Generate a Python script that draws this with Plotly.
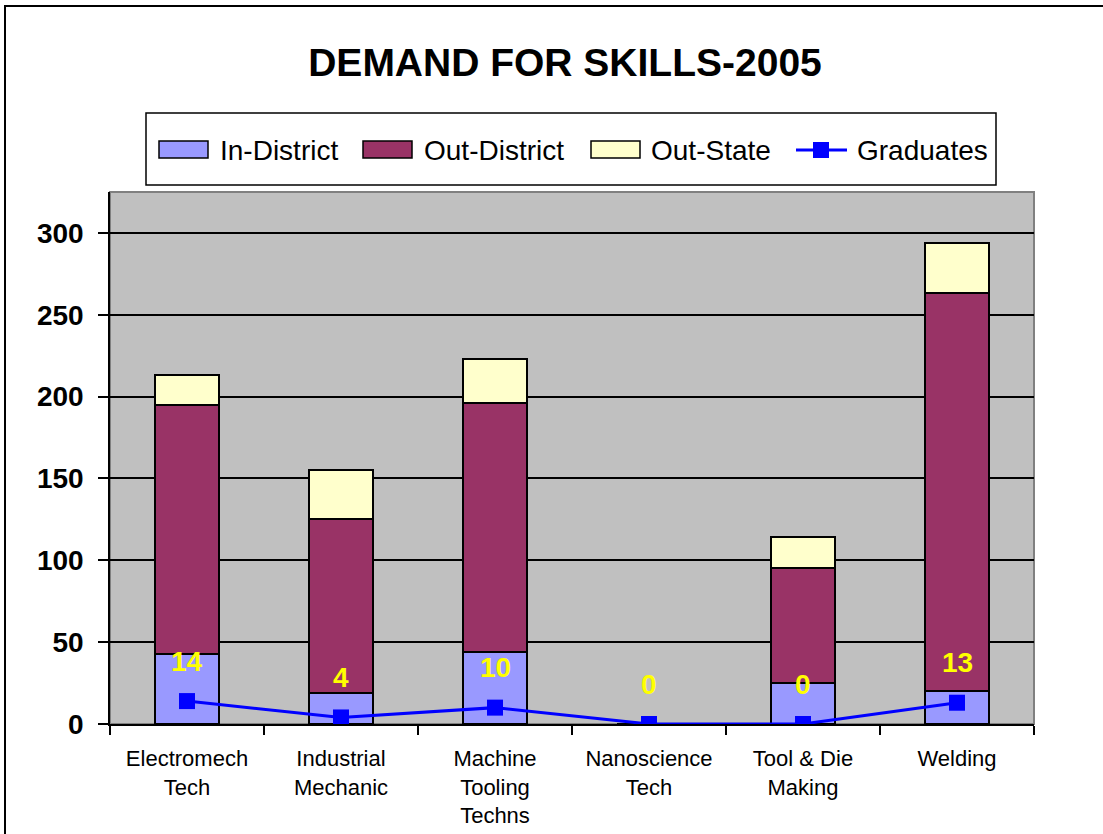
import plotly.graph_objects as go

categories = ["Electromech Tech", "Industrial Mechanic", "Machine Tooling Techns",
              "Nanoscience Tech", "Tool & Die Making", "Welding"]
tick_labels = ["Electromech<br>Tech", "Industrial<br>Mechanic", "Machine<br>Tooling<br>Techns",
               "Nanoscience<br>Tech", "Tool & Die<br>Making", "Welding"]
in_district = [43, 19, 44, 0, 25, 20]
out_district = [152, 106, 152, 0, 70, 243]
out_state = [18, 30, 27, 0, 19, 31]
graduates = [14, 4, 10, 0, 0, 13]
y_ticks = [0, 50, 100, 150, 200, 250, 300]

series_names = ["In-District", "Out-District", "Out-State", "Graduates"]
series_colors = ["#9999FF", "#993366", "#FFFFCC", "#0000FF"]

FONT = "Liberation Sans, Arial, sans-serif"
W, H = 1103, 834
ML, MR, MT, MB = 110, 69, 192, 110
PW, PH = W - ML - MR, H - MT - MB


def px_x(p):
    """window pixel x -> paper coordinate"""
    return (p - ML) / PW


def px_y(p):
    """window pixel y -> paper coordinate"""
    return (H - MB - p) / PH


fig = go.Figure()
bar_line = dict(color="black", width=2)
for name, col, vals in zip(series_names[:3], series_colors[:3],
                           [in_district, out_district, out_state]):
    fig.add_trace(go.Bar(x=categories, y=vals, name=name,
                         marker=dict(color=col, line=bar_line), width=0.41))
fig.add_trace(go.Scatter(x=categories, y=graduates, name=series_names[3], mode="lines+markers",
                         line=dict(color=series_colors[3], width=3),
                         marker=dict(symbol="square", size=16, color=series_colors[3])))

for c, g in zip(categories, graduates):
    fig.add_annotation(x=c, y=g, text=str(g), showarrow=False, yshift=40,
                       yanchor="middle",
                       font=dict(family=FONT, size=28, color="#FFFF00", weight="bold"))

# outer chart border
fig.add_shape(type="rect", xref="paper", yref="paper",
              x0=px_x(5), x1=px_x(1120), y0=px_y(850), y1=px_y(6),
              line=dict(color="black", width=2), layer="below")
# legend box
fig.add_shape(type="rect", xref="paper", yref="paper",
              x0=px_x(146), x1=px_x(996), y0=px_y(185), y1=px_y(113),
              line=dict(color="black", width=1.5), fillcolor="white", layer="below")
# plot area border (top/right grey)
fig.add_shape(type="rect", xref="paper", yref="paper", x0=0, x1=1, y0=0, y1=1,
              line=dict(color="#808080", width=2), layer="below")

# legend entries (swatches + labels)
swatch_x = [159, 363, 591]
text_x = [218, 422, 649, 855]
for sx, col in zip(swatch_x, series_colors[:3]):
    fig.add_shape(type="rect", xref="paper", yref="paper",
                  x0=px_x(sx), x1=px_x(sx + 49), y0=px_y(158), y1=px_y(141),
                  line=dict(color="black", width=1.5), fillcolor=col, layer="above")
fig.add_shape(type="line", xref="paper", yref="paper",
              x0=px_x(796), x1=px_x(847), y0=px_y(150), y1=px_y(150),
              line=dict(color=series_colors[3], width=3), layer="above")
fig.add_shape(type="rect", xref="paper", yref="paper",
              x0=px_x(813), x1=px_x(829), y0=px_y(158), y1=px_y(142),
              line=dict(color=series_colors[3], width=0), fillcolor=series_colors[3], layer="above")
for tx, name in zip(text_x, series_names):
    fig.add_annotation(xref="paper", yref="paper", x=px_x(tx), y=px_y(150), text=name,
                       showarrow=False, xanchor="left", yanchor="middle",
                       font=dict(family=FONT, size=28, color="black"))

fig.update_layout(
    width=W, height=H,
    margin=dict(l=ML, r=MR, t=MT, b=MB, autoexpand=False),
    paper_bgcolor="white", plot_bgcolor="#C0C0C0",
    barmode="stack",
    font=dict(family=FONT, color="black"),
    title=dict(text="DEMAND FOR SKILLS-2005", x=565 / W, xanchor="center",
               y=1 - 62 / H, yanchor="middle", yref="container",
               font=dict(family=FONT, size=39, color="black", weight="bold")),
    showlegend=False,
)
fig.update_xaxes(tickvals=categories, ticktext=tick_labels, tickson="boundaries",
                 ticks="outside", ticklen=9, tickwidth=1.5, tickcolor="black",
                 ticklabelstandoff=14,
                 showline=True, linecolor="black", linewidth=1.5,
                 showgrid=False, tickfont=dict(family=FONT, size=22, color="black"))
fig.update_yaxes(range=[0, 325], tickvals=y_ticks, ticks="outside", ticklen=10,
                 tickwidth=1.5, tickcolor="black", showline=True, linecolor="black",
                 linewidth=1.5, showgrid=True, gridcolor="black", gridwidth=1.5,
                 zeroline=False, ticklabelstandoff=9,
                 tickfont=dict(family=FONT, size=28, color="black", weight="bold"))

fig.write_html(
    "out.html",
    config={"displayModeBar": False},
    post_script="document.body.style.margin='0';document.body.style.padding='0';"
                "document.body.style.overflow='hidden';",
)
